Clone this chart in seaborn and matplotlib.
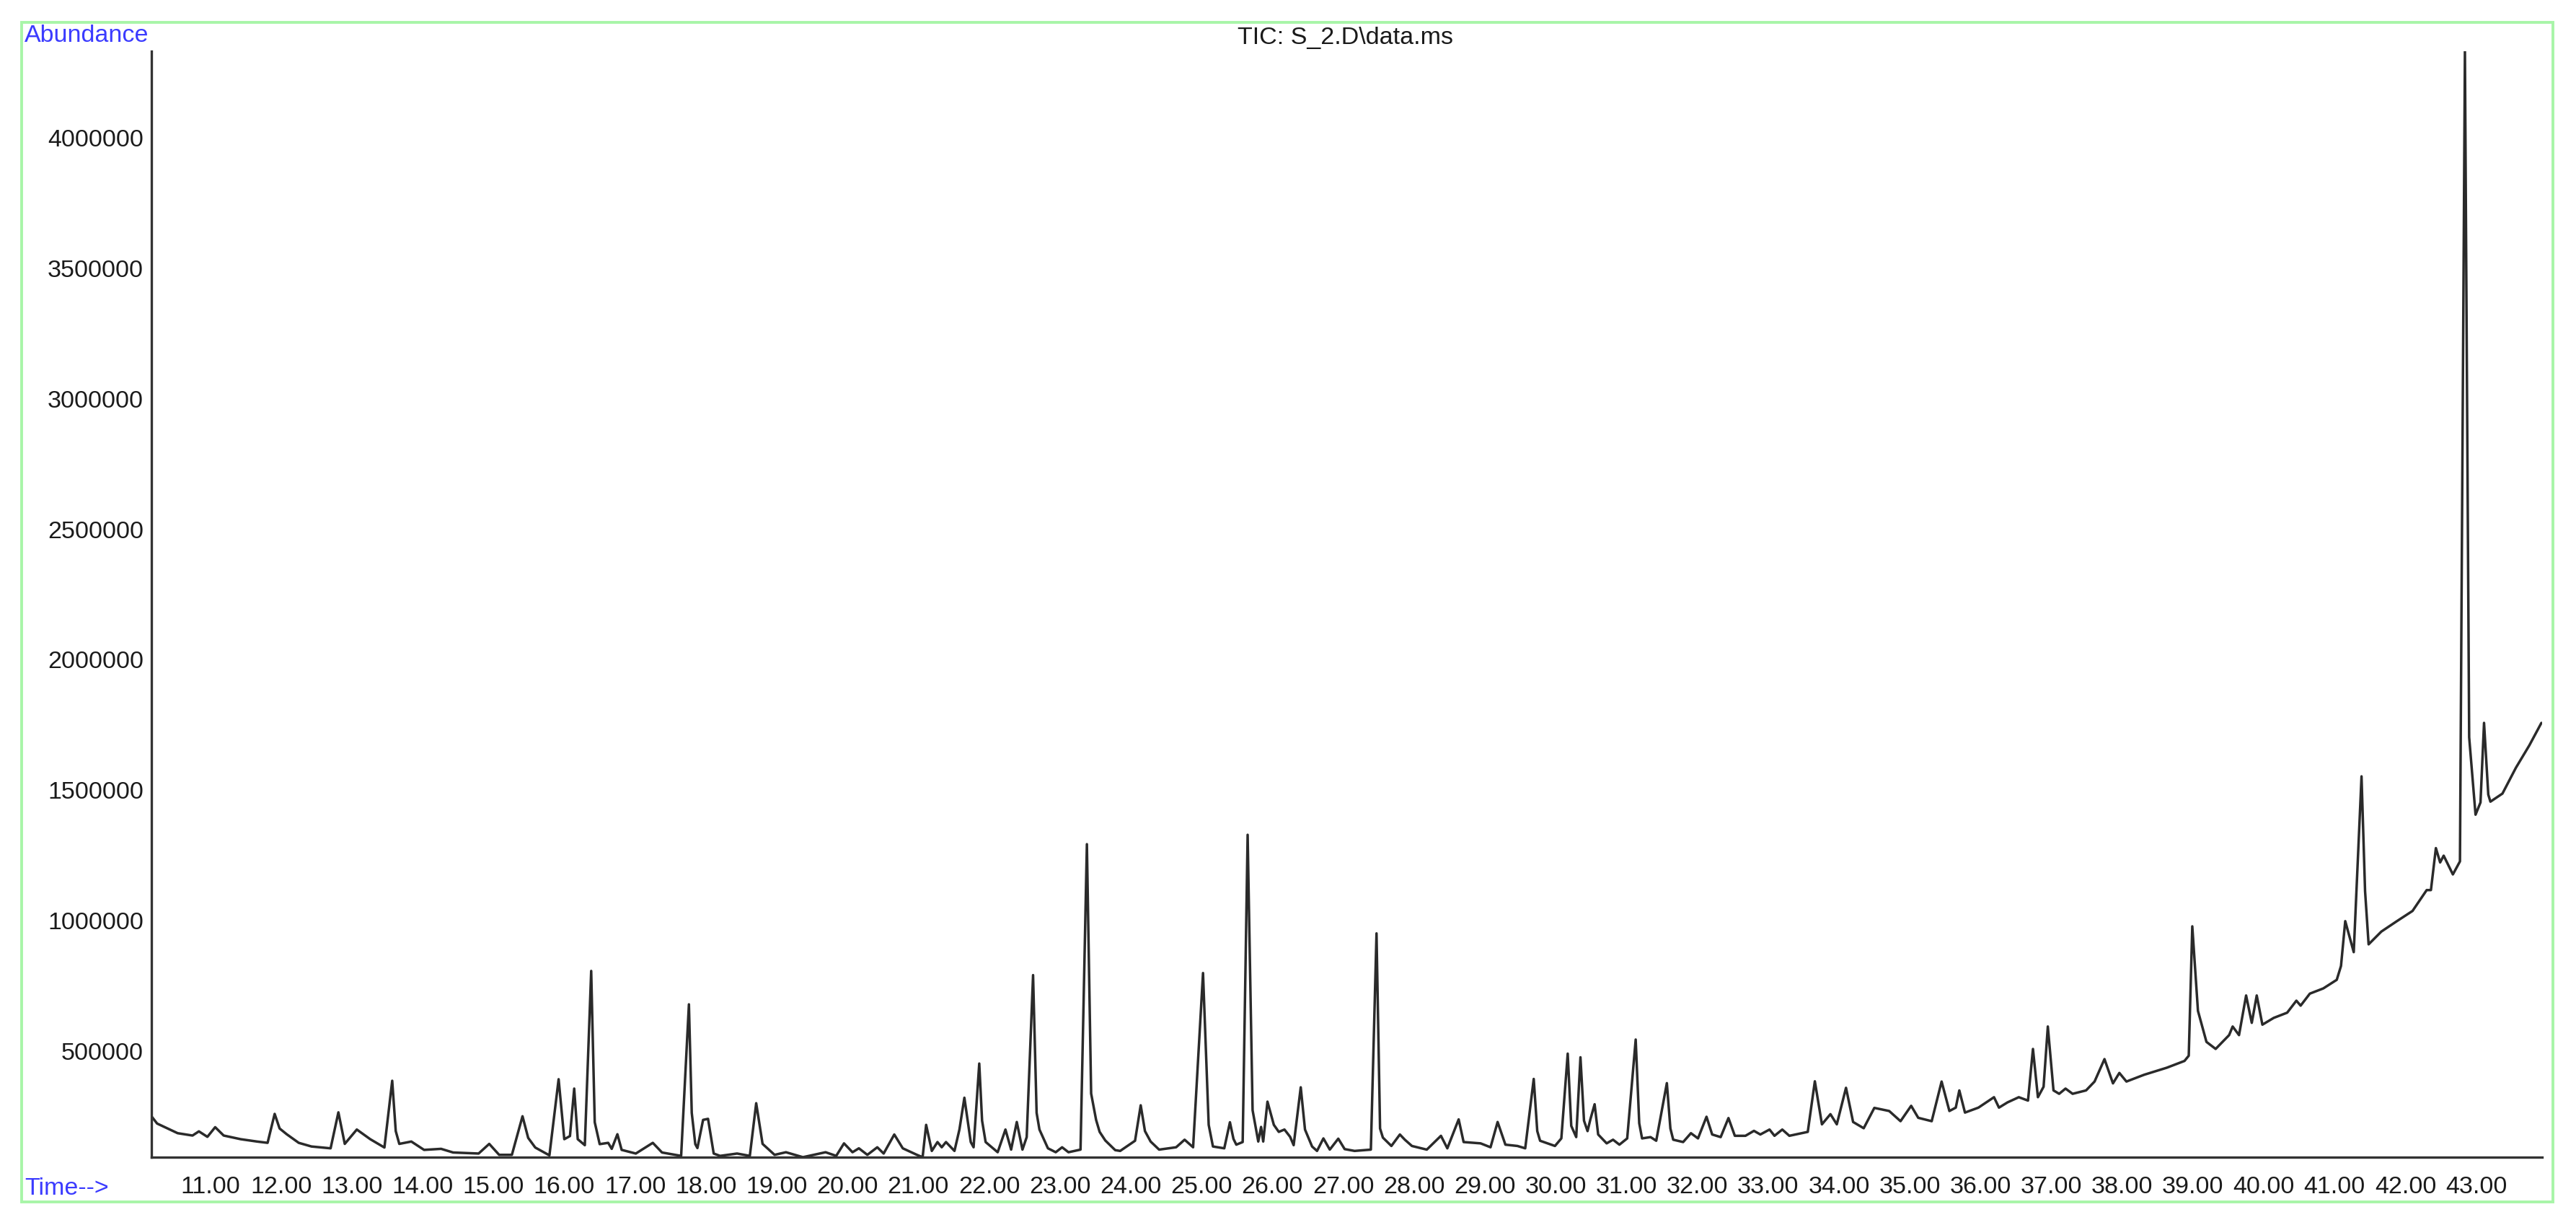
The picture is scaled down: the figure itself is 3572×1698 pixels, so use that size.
import matplotlib
matplotlib.use("Agg")
import matplotlib.pyplot as plt
from matplotlib.ticker import MultipleLocator, FormatStrFormatter
from matplotlib.patches import Rectangle
import seaborn as sns

# ---- data (retention time in min, abundance in thousands) ----
rt = [10.17, 10.25, 10.54, 10.75, 10.84, 10.96, 11.07, 11.19, 11.43, 11.66, 11.81, 11.91,
      11.98, 12.08, 12.25, 12.43, 12.70, 12.81, 12.90, 13.07, 13.26, 13.46, 13.57, 13.62,
      13.67, 13.84, 14.02, 14.26, 14.43, 14.79, 14.94, 15.08, 15.26, 15.41, 15.49, 15.59,
      15.79, 15.92, 16.00, 16.08, 16.14, 16.19, 16.29, 16.38, 16.43, 16.50, 16.62, 16.67,
      16.75, 16.81, 17.01, 17.25, 17.38, 17.65, 17.76, 17.80, 17.85, 17.88, 17.96, 18.03,
      18.11, 18.20, 18.44, 18.62, 18.71, 18.80, 18.97, 19.13, 19.37, 19.69, 19.84, 19.95,
      20.07, 20.16, 20.28, 20.42, 20.51, 20.66, 20.78, 20.98, 21.06, 21.11, 21.19, 21.27,
      21.33, 21.39, 21.51, 21.58, 21.65, 21.74, 21.78, 21.86, 21.90, 21.95, 22.12, 22.23,
      22.31, 22.39, 22.47, 22.53, 22.62, 22.67, 22.71, 22.83, 22.94, 23.03, 23.12, 23.29,
      23.38, 23.44, 23.51, 23.56, 23.64, 23.78, 23.85, 24.06, 24.14, 24.20, 24.28, 24.40,
      24.64, 24.76, 24.88, 25.02, 25.10, 25.16, 25.32, 25.40, 25.45, 25.49, 25.58, 25.65,
      25.72, 25.80, 25.84, 25.87, 25.93, 26.02, 26.09, 26.17, 26.25, 26.30, 26.40, 26.46,
      26.56, 26.63, 26.72, 26.81, 26.93, 27.02, 27.16, 27.39, 27.47, 27.52, 27.56, 27.68,
      27.80, 27.87, 27.97, 28.18, 28.38, 28.47, 28.63, 28.70, 28.94, 29.08, 29.18, 29.29,
      29.46, 29.57, 29.69, 29.74, 29.78, 29.99, 30.08, 30.17, 30.22, 30.29, 30.35, 30.40,
      30.45, 30.49, 30.55, 30.60, 30.72, 30.81, 30.90, 31.01, 31.13, 31.18, 31.22, 31.34,
      31.42, 31.57, 31.62, 31.66, 31.80, 31.91, 32.01, 32.13, 32.21, 32.33, 32.44, 32.53,
      32.68, 32.80, 32.89, 33.02, 33.09, 33.20, 33.30, 33.47, 33.56, 33.66, 33.76, 33.88,
      33.97, 34.10, 34.20, 34.35, 34.50, 34.71, 34.87, 35.02, 35.12, 35.31, 35.45, 35.56,
      35.65, 35.70, 35.78, 35.97, 36.19, 36.26, 36.38, 36.54, 36.67, 36.74, 36.81, 36.89,
      36.95, 37.03, 37.11, 37.20, 37.30, 37.49, 37.61, 37.75, 37.87, 37.96, 38.06, 38.31,
      38.63, 38.88, 38.94, 38.99, 39.07, 39.19, 39.32, 39.51, 39.56, 39.65, 39.75, 39.83,
      39.90, 39.98, 40.14, 40.33, 40.46, 40.52, 40.65, 40.84, 41.03, 41.09, 41.15, 41.27,
      41.38, 41.43, 41.48, 41.66, 41.88, 42.10, 42.30, 42.36, 42.43, 42.49, 42.54, 42.67,
      42.77, 42.84, 42.90, 42.99, 43.06, 43.11, 43.17, 43.20, 43.37, 43.56, 43.75, 43.92]

abundance_k = [247, 219, 182, 173, 189, 168, 205, 173, 159, 150, 145, 256,
               200, 178, 145, 131, 124, 262, 141, 196, 159, 127, 383, 190,
               141, 150, 118, 122, 108, 104, 141, 99, 99, 247, 164, 127,
               97, 389, 159, 171, 353, 159, 136, 804, 224, 140, 145, 122,
               178, 118, 104, 145, 108, 95, 676, 260, 140, 125, 233, 237,
               104, 95, 104, 95, 297, 141, 99, 109, 90, 109, 95, 143,
               109, 124, 99, 128, 104, 177, 124, 99, 90, 214, 114, 148,
               128, 148, 114, 196, 318, 148, 128, 449, 230, 148, 109, 196,
               119, 225, 119, 167, 788, 260, 196, 124, 109, 128, 109, 119,
               1290, 334, 233, 187, 154, 117, 114, 153, 289, 190, 150, 119,
               128, 157, 128, 796, 214, 131, 124, 224, 160, 138, 148, 1326,
               270, 150, 206, 150, 303, 214, 187, 196, 168, 136, 358, 196,
               131, 114, 162, 119, 161, 121, 114, 119, 948, 200, 165, 133,
               177, 157, 133, 119, 172, 124, 235, 148, 143, 128, 225, 138,
               133, 124, 390, 190, 153, 133, 162, 487, 210, 167, 473, 230,
               190, 235, 293, 177, 143, 157, 138, 162, 541, 220, 162, 167,
               153, 374, 200, 157, 148, 182, 162, 245, 177, 167, 240, 172,
               172, 191, 177, 196, 172, 196, 172, 182, 187, 381, 216, 255,
               216, 356, 225, 201, 279, 267, 228, 287, 241, 228, 380, 267,
               280, 346, 261, 280, 320, 280, 300, 320, 307, 505, 320, 360,
               591, 346, 333, 353, 333, 346, 380, 466, 373, 413, 380, 406,
               433, 459, 479, 975, 651, 532, 505, 558, 591, 558, 710, 605,
               710, 598, 624, 644, 690, 671, 717, 737, 770, 823, 995, 876,
               1550, 1110, 906, 955, 995, 1034, 1114, 1114, 1275, 1220, 1246, 1174,
               1224, 4330, 1700, 1403, 1450, 1755, 1480, 1453, 1484, 1583, 1669, 1755]

abundance = [a * 1000 for a in abundance_k]

title_text = "TIC: S_2.D\\data.ms"
y_label = "Abundance"
x_label = "Time-->"

# ---- figure ----
W, H = 3572, 1699
sns.set_style("white")
plt.rcParams["font.family"] = ["Liberation Sans", "DejaVu Sans"]

fig = plt.figure(figsize=(W / 100, H / 100), dpi=100)
fig.patch.set_facecolor("white")

ax_l, ax_r, ax_t, ax_b = 210, 3525, 72, 1605
ax = fig.add_axes([ax_l / W, 1 - ax_b / H, (ax_r - ax_l) / W, (ax_b - ax_t) / H])

sns.lineplot(x=rt, y=abundance, ax=ax, color="#2a2a2a", linewidth=2.5,
             estimator=None, legend=False)

ax.set_xlim(10.17, 43.93)
ax.set_ylim(90000, 4330000)

ax.xaxis.set_major_locator(MultipleLocator(1))
ax.xaxis.set_minor_locator(MultipleLocator(0.2))
ax.xaxis.set_major_formatter(FormatStrFormatter("%.2f"))
ax.yaxis.set_major_locator(MultipleLocator(500000))
ax.yaxis.set_minor_locator(MultipleLocator(100000))
ax.yaxis.set_major_formatter(FormatStrFormatter("%d"))

for s in ["top", "right"]:
    ax.spines[s].set_visible(False)
for s in ["left", "bottom"]:
    ax.spines[s].set_color("#333333")
    ax.spines[s].set_linewidth(2.4)

ax.tick_params(axis="x", which="major", direction="out", length=14, width=2.2,
               color="#333333", labelsize=24.5, labelcolor="#1a1a1a", pad=4)
ax.tick_params(axis="x", which="minor", direction="out", length=7, width=2.2,
               color="#333333")
ax.tick_params(axis="y", which="major", direction="out", length=7, width=2.2,
               color="#333333", labelsize=24.5, labelcolor="#1a1a1a", pad=1)
ax.tick_params(axis="y", which="minor", direction="out", length=3.5, width=2.2,
               color="#333333")
ax.set_xlabel("")
ax.set_ylabel("")
ax.grid(False)
ax.set_facecolor("white")

# frame
fig.patches.append(Rectangle((30 / W, 1 - 1667 / H), (3540 - 30) / W, (1667 - 32) / H,
                             transform=fig.transFigure, fill=False,
                             edgecolor="#a8f5a8", linewidth=2.8))

fig.text(34 / W, 1 - 50 / H, y_label, color="#3b3bff", fontsize=24.5,
         ha="left", va="center")
fig.text(34 / W, 1 - 1648 / H, x_label, color="#3b3bff", fontsize=24.5,
         ha="left", va="center")
fig.text(1866 / W, 1 - 52 / H, title_text, color="#1a1a1a", fontsize=24.5,
         ha="center", va="center")

fig.savefig("out.png", dpi=100, facecolor="white")
